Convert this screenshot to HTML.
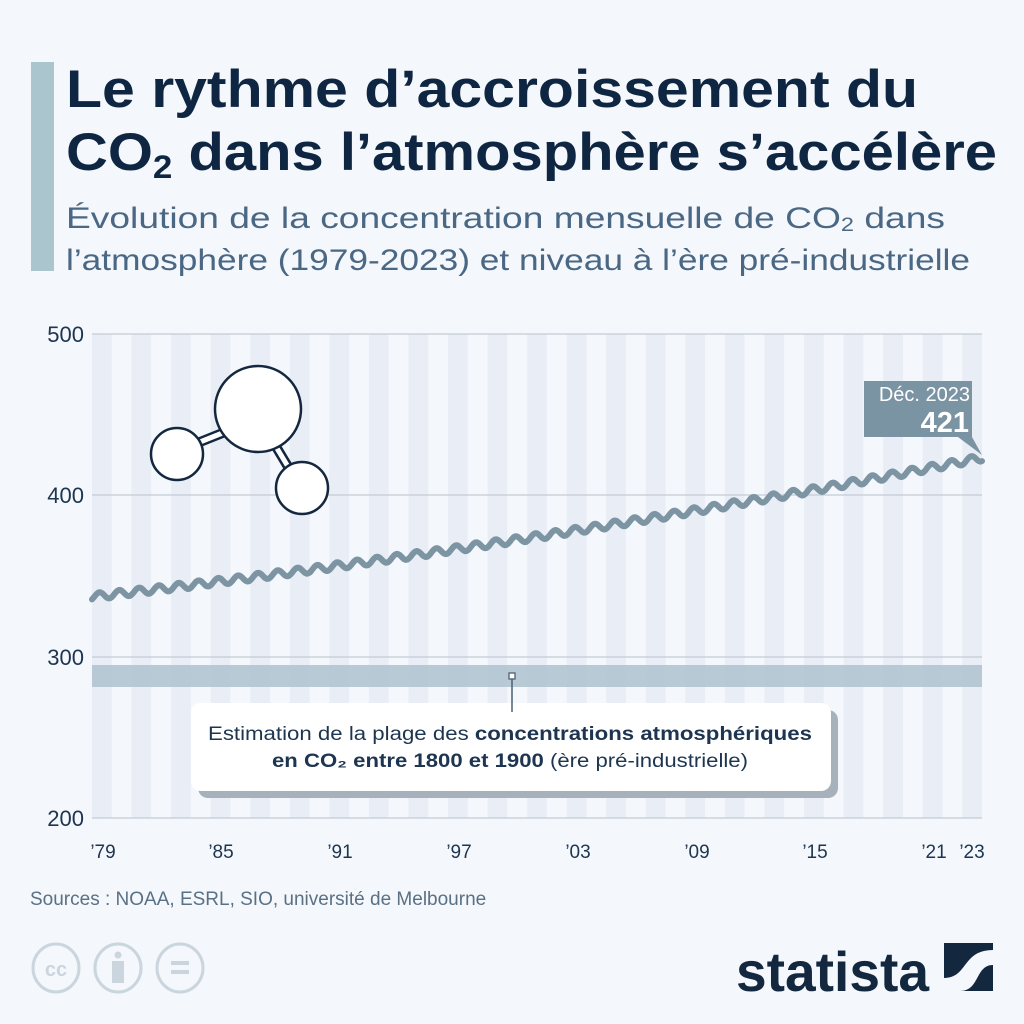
<!DOCTYPE html>
<html><head><meta charset="utf-8"><style>
body{margin:0;width:1024px;height:1024px;background:#f4f7fb;font-family:"Liberation Sans",sans-serif;overflow:hidden;position:relative}
</style></head><body>
<svg width="1024" height="1024" style="position:absolute;left:0;top:0" id="sv">
<rect x="31" y="62" width="23" height="209" fill="#abc5cf"/>
<g font-weight="bold" fill="#0f2642" font-size="53">
<text x="66" y="107" textLength="852" lengthAdjust="spacingAndGlyphs">Le rythme d’accroissement du</text>
<text x="66" y="170" textLength="931" lengthAdjust="spacingAndGlyphs">CO<tspan font-size="32" dy="8">2</tspan><tspan dy="-8"> dans l’atmosphère s’accélère</tspan></text>
</g>
<g fill="#4a6784" font-size="30">
<text x="66" y="228" textLength="879" lengthAdjust="spacingAndGlyphs">Évolution de la concentration mensuelle de CO<tspan font-size="19" dy="3">2</tspan><tspan dy="-3"> dans</tspan></text>
<text x="66" y="270" textLength="904" lengthAdjust="spacingAndGlyphs">l’atmosphère (1979-2023) et niveau à l’ère pré-industrielle</text>
</g>
<g id="stripes"></g>
<g stroke="#c3ccd6" stroke-width="1.3">
<line x1="92" y1="334" x2="982" y2="334"/><line x1="92" y1="495" x2="982" y2="495"/><line x1="92" y1="657" x2="982" y2="657"/><line x1="92" y1="818" x2="982" y2="818"/>
</g>
<rect x="92" y="665" width="890" height="22" fill="#adc2cf" opacity="0.85"/>
<g font-size="22" fill="#1d3550" text-anchor="end">
<text x="84" y="342">500</text><text x="84" y="503">400</text><text x="84" y="665">300</text><text x="84" y="826">200</text></g>
<g font-size="19" fill="#1d3550" text-anchor="middle">
<text x="103" y="858">’79</text><text x="221" y="858">’85</text><text x="340" y="858">’91</text><text x="459" y="858">’97</text><text x="578" y="858">’03</text><text x="697" y="858">’09</text><text x="815" y="858">’15</text><text x="934" y="858">’21</text><text x="972" y="858">’23</text></g>
<path id="co2" fill="none" stroke="#7d95a3" stroke-width="6" stroke-linejoin="round" stroke-linecap="round"/>
<rect x="864" y="381" width="108" height="56" fill="#7b94a3"/>
<polygon points="958,437 972,437 982,455" fill="#7b94a3"/>
<text x="970" y="401" font-size="20" fill="#fff" text-anchor="end">Déc. 2023</text>
<text x="969" y="432" font-size="29" font-weight="bold" fill="#fff" text-anchor="end">421</text>
<rect x="198" y="710" width="640" height="88" rx="10" fill="#a6b1bc"/>
<rect x="191" y="703" width="640" height="88" rx="10" fill="#fff"/>
<line x1="512" y1="678" x2="512" y2="712" stroke="#4c5f72" stroke-width="1.5"/>
<rect x="509" y="673" width="6" height="6" fill="#fff" stroke="#4c5f72" stroke-width="1.3"/>
<text x="510" y="740" font-size="19" fill="#1d3550" text-anchor="middle" textLength="604" lengthAdjust="spacingAndGlyphs">Estimation de la plage des <tspan font-weight="bold">concentrations atmosphériques</tspan></text>
<text x="510" y="767" font-size="19" fill="#1d3550" text-anchor="middle" textLength="476" lengthAdjust="spacingAndGlyphs"><tspan font-weight="bold">en CO₂ entre 1800 et 1900</tspan> (ère pré-industrielle)</text>
<g fill="#fff" stroke="#13273e" stroke-width="2.5">
<line x1="185" y1="448" x2="230" y2="430" stroke-width="10"/>
<line x1="185" y1="448" x2="230" y2="430" stroke="#fff" stroke-width="5"/>
<line x1="272" y1="440" x2="296" y2="480" stroke-width="10"/>
<line x1="272" y1="440" x2="296" y2="480" stroke="#fff" stroke-width="5"/>
<circle cx="177" cy="454" r="26"/>
<circle cx="258" cy="409" r="43"/>
<circle cx="302" cy="488" r="26"/>
</g>
<text x="30" y="905" font-size="19" fill="#5a7085">Sources : NOAA, ESRL, SIO, université de Melbourne</text>
<g fill="none" stroke="#cbd5dd" stroke-width="3">
<ellipse cx="56" cy="968" rx="23" ry="24"/><ellipse cx="118" cy="968" rx="23" ry="24"/><ellipse cx="180" cy="968" rx="23" ry="24"/></g>
<text x="56" y="976" font-size="20" font-weight="bold" fill="#cbd5dd" text-anchor="middle">cc</text>
<circle cx="118" cy="955" r="3.5" fill="#cbd5dd"/><rect x="112" y="961" width="12" height="22" fill="#cbd5dd"/>
<rect x="171" y="961" width="18" height="4" fill="#cbd5dd"/><rect x="171" y="970" width="18" height="4" fill="#cbd5dd"/>
<text x="736" y="991" font-size="56" font-weight="bold" fill="#13273e" textLength="193" lengthAdjust="spacingAndGlyphs">statista</text>
<rect x="944" y="943" width="49" height="48" fill="#13273e"/>
<path d="M944 991 V978 C968 978 962 950 993 950 V965 C975 965 980 991 960 991Z" fill="#f4f7fb"/>
</svg>
<script>
var s='';for(var i=0;i<45;i++){s+='<rect x="'+(92+i*19.78)+'" y="334" width="19.78" height="484" fill="'+(i%2==0?'#e9eef6':'#f4f7fb')+'"/>';}
document.getElementById('stripes').innerHTML=s;
var d='';for(var m=0;m<540;m++){var t=m/12;var v=337+1.4*t+0.0115*t*t+2.3*Math.sin(2*Math.PI*(m%12-1.5)/12);if(m==539)v=421;var x=92+m*890/539,y=818-(v-200)*1.615;d+=(m?'L':'M')+x.toFixed(1)+' '+y.toFixed(1);}
document.getElementById('co2').setAttribute('d',d);
</script>
</body></html>
